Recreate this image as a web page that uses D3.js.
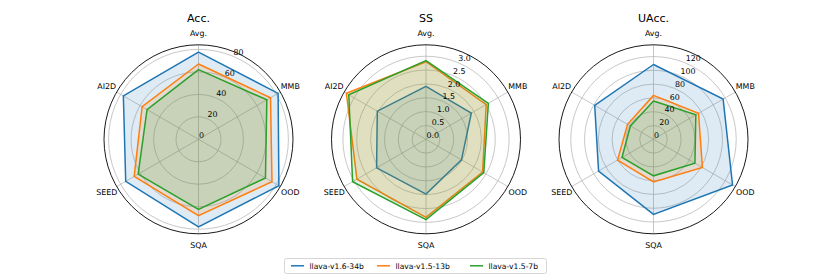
<!DOCTYPE html>
<html>
<head>
<meta charset="utf-8">
<script src="https://cdn.jsdelivr.net/npm/d3@7"></script>
<style>
body { margin: 0; background: #fff; }
text { font-family: "DejaVu Sans", sans-serif; }
</style>
</head>
<body>
<svg></svg>
<script>
var w = 830, h = 277

// data
var categories = ["Avg.", "MMB", "OOD", "SQA", "SEED", "AI2D"]
var models = ["llava-v1.6-34b", "llava-v1.5-13b", "llava-v1.5-7b"]
var colors = ["#1f77b4", "#ff7f0e", "#2ca02c"]
var titles = ["Acc.", "SS", "UAcc."]

var acc_34b = [77.5, 81.8, 82.6, 78.0, 74.8, 77.2]
var acc_13b = [67.0, 74.0, 75.5, 68.0, 66.1, 57.9]
var acc_7b = [62.0, 70.2, 68.8, 62.3, 62.0, 52.9]

var ss_34b = [1.91, 1.89, 1.48, 1.98, 2.06, 2.03]
var ss_13b = [2.80, 2.51, 2.36, 2.82, 2.88, 3.32]
var ss_7b = [2.84, 2.60, 2.41, 2.90, 3.06, 3.22]

var uacc_34b = [108.5, 116.6, 132.4, 109.0, 92.0, 98.5]
var uacc_13b = [63.7, 75.4, 81.9, 61.8, 60.2, 43.5]
var uacc_7b = [55.5, 70.9, 69.4, 53.0, 52.8, 38.7]

var acc_ticks = [0, 20, 40, 60, 80]
var ss_ticks = [0, 0.5, 1.0, 1.5, 2.0, 2.5, 3.0]
var uacc_ticks = [0, 20, 40, 60, 80, 100, 120]

var panels = [
    { title: titles[0], series: [acc_34b, acc_13b, acc_7b], ticks: acc_ticks, fmt: d3.format("d") },
    { title: titles[1], series: [ss_34b, ss_13b, ss_7b], ticks: ss_ticks, fmt: d3.format(".1f") },
    { title: titles[2], series: [uacc_34b, uacc_13b, uacc_7b], ticks: uacc_ticks, fmt: d3.format("d") }
]

var svg = d3.select("svg")
    .attr("width", w)
    .attr("height", h)

var cx = [198.5, 426, 653.5]
var cy = 139.3
var R = 94.5
var step = 2 * Math.PI / categories.length

function draw_panel(p, i)
{
    var g = svg.append("g")
        .attr("transform", "translate(" + cx[i] + "," + cy + ")")

    // matplotlib style autoscale: 5% margin on the data range, origin at 0
    var all = d3.merge(p.series)
    var mx = d3.max(all), mn = d3.min(all)
    var r = d3.scaleLinear()
        .domain([0, mx + 0.05 * (mx - mn)])
        .range([0, R])

    // grid circles
    g.selectAll(".grid")
        .data(p.ticks.filter(function(t) { return t > 0 }))
        .enter().append("circle")
        .attr("r", function(t) { return r(t) })
        .attr("fill", "none")
        .attr("stroke", "#b0b0b0")
        .attr("stroke-width", 0.7)

    // spokes
    g.selectAll(".spoke")
        .data(categories)
        .enter().append("line")
        .attr("x1", 0).attr("y1", 0)
        .attr("x2", function(d, k) { return R * Math.sin(k * step) })
        .attr("y2", function(d, k) { return -R * Math.cos(k * step) })
        .attr("stroke", "#b0b0b0")
        .attr("stroke-width", 0.7)

    var line = d3.lineRadial()
        .angle(function(d, k) { return k * step })
        .radius(function(d) { return r(d) })
        .curve(d3.curveLinearClosed)

    p.series.forEach(function(s, k) {
        g.append("path")
            .attr("d", line(s))
            .attr("fill", "none")
            .attr("stroke", colors[k])
            .attr("stroke-width", 1.5)
            .attr("stroke-linejoin", "miter")
        g.append("path")
            .attr("d", line(s))
            .attr("fill", colors[k])
            .attr("fill-opacity", 0.15)
            .attr("stroke", "none")
    })

    // outer spine
    g.append("circle")
        .attr("r", R)
        .attr("fill", "none")
        .attr("stroke", "#000")
        .attr("stroke-width", 0.9)

    // radial tick labels at 22.5 deg
    var a = 22.5 * Math.PI / 180
    g.selectAll(".rt")
        .data(p.ticks)
        .enter().append("text")
        .attr("x", function(t) { return r(t) * Math.sin(a) + 0.5 })
        .attr("y", function(t) { return -r(t) * Math.cos(a) - 1.5 })
        .attr("font-size", 7.9)
        .attr("fill", "#000")
        .text(function(t) { return p.fmt(t) })

    // category labels
    g.selectAll(".cat")
        .data(categories)
        .enter().append("text")
        .attr("x", function(d, k) { return 106 * Math.sin(k * step) })
        .attr("y", function(d, k) { return -106 * Math.cos(k * step) })
        .attr("dy", "0.35em")
        .attr("text-anchor", "middle")
        .attr("font-size", 7.9)
        .text(function(d) { return d })

    svg.append("text")
        .attr("x", cx[i])
        .attr("y", 22)
        .attr("text-anchor", "middle")
        .attr("font-size", 11)
        .text(p.title)
}

panels.forEach(draw_panel)

// legend
var lg = svg.append("g")
lg.append("rect")
    .attr("x", 284.5)
    .attr("y", 258.5)
    .attr("width", 262)
    .attr("height", 15)
    .attr("rx", 2)
    .attr("fill", "#fff")
    .attr("fill-opacity", 0.8)
    .attr("stroke", "#cccccc")
    .attr("stroke-width", 0.8)

var lx = [291, 377, 470]
models.forEach(function(m, k) {
    lg.append("line")
        .attr("x1", lx[k]).attr("x2", lx[k] + 13)
        .attr("y1", 265.8).attr("y2", 265.8)
        .attr("stroke", colors[k])
        .attr("stroke-width", 1.5)
    lg.append("text")
        .attr("x", lx[k] + 18.5)
        .attr("y", 268.6)
        .attr("font-size", 7.6)
        .text(m)
})
</script>
</body>
</html>
